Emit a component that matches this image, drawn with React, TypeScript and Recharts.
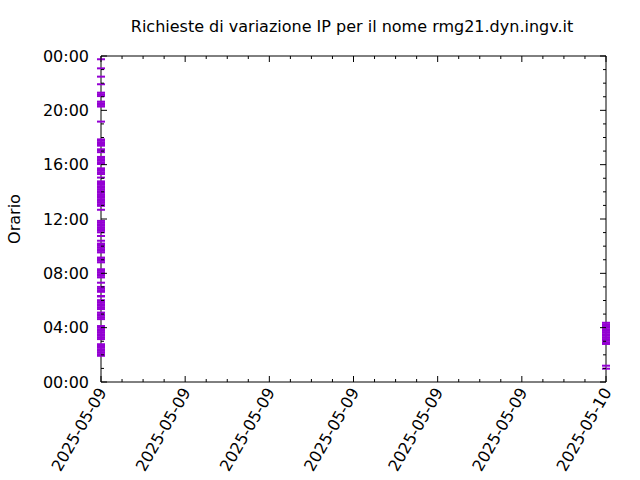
import { ScatterChart, Scatter, XAxis, YAxis, ReferenceArea } from 'recharts'

// days on the x axis (hours from 2025-05-09 00:00)
const DAY_OFFSETS = [0, 24]

// request times (hour of day)
const HOURS_0509 = [
  1.93, 2.05, 2.17, 2.29, 2.41, 2.53, 2.65, 2.78,
  3.16, 3.28, 3.4, 3.52, 3.64, 3.76, 3.88, 4.0, 4.12,
  4.63, 4.75, 4.87, 4.99, 5.11,
  5.37, 5.49, 5.61, 5.73, 5.85, 5.97, 6.02,
  6.3, 6.33,
  6.64, 6.76, 6.88, 7.0,
  7.31,
  7.7, 7.82, 7.94, 8.06, 8.18, 8.3,
  8.81, 8.93, 9.05, 9.16,
  9.54, 9.66, 9.78, 9.9, 10.02, 10.14, 10.19,
  10.4, 10.75,
  11.02, 11.14, 11.26, 11.38, 11.5, 11.62, 11.74, 11.86,
  12.68,
  12.97, 13.09, 13.21, 13.33, 13.45, 13.57, 13.69, 13.81, 13.93, 14.05, 14.17, 14.29, 14.41, 14.53, 14.65, 14.77,
  15.05,
  15.31, 15.43, 15.55, 15.67, 15.73,
  16.05, 16.17, 16.29, 16.41, 16.53, 16.57,
  16.92, 17.04, 17.13,
  17.4, 17.52, 17.64, 17.76, 17.86,
  19.17,
  20.28, 20.4, 20.52, 20.64,
  21.05, 21.18, 21.3, 21.92, 22.48, 23.09, 23.76,
]
const HOURS_0510 = [
  0.98, 1.2,
  2.8, 2.92, 3.04, 3.16, 3.28, 3.4, 3.52, 3.64, 3.76, 3.88, 4.0, 4.12, 4.24, 4.36,
]

const X_MAJOR = [0, 4, 8, 12, 16, 20, 24]
const X_LABELS = ['2025-05-09', '2025-05-09', '2025-05-09', '2025-05-09', '2025-05-09', '2025-05-09', '2025-05-10']
const Y_MAJOR = [0, 4, 8, 12, 16, 20, 24]
const Y_LABELS = ['00:00', '04:00', '08:00', '12:00', '16:00', '20:00', '00:00']
const HOURLY = Array.from({ length: 25 }, (_, i) => i)

const PURPLE = '#9400d3'
const FONT = 'DejaVu Sans, sans-serif'

// plot box
const LEFT = 101
const RIGHT = 606
const TOP = 56
const BOTTOM = 382

const points = [
  ...HOURS_0509.map((h) => ({ x: DAY_OFFSETS[0], y: h })),
  ...HOURS_0510.map((h) => ({ x: DAY_OFFSETS[1], y: h })),
]

function XTick({ x, payload }: any) {
  const v = payload.value
  const idx = X_MAJOR.indexOf(v)
  const len = idx >= 0 ? 6 : 3
  const ax = x + 6
  const ay = BOTTOM + 10
  return (
    <g>
      <line x1={x} x2={x} y1={BOTTOM} y2={BOTTOM - len} stroke="#000" />
      <line x1={x} x2={x} y1={TOP} y2={TOP + len} stroke="#000" />
      {idx >= 0 && (
        <text
          x={ax}
          y={ay}
          textAnchor="end"
          fontSize={16}
          fontFamily={FONT}
          fill="#000"
          transform={`rotate(-60, ${ax}, ${ay})`}
        >
          {X_LABELS[idx]}
        </text>
      )}
    </g>
  )
}

function YTick({ y, payload }: any) {
  const v = payload.value
  const idx = Y_MAJOR.indexOf(v)
  const len = idx >= 0 ? 6 : 3
  return (
    <g>
      <line x1={LEFT} x2={LEFT + len} y1={y} y2={y} stroke="#000" />
      <line x1={RIGHT} x2={RIGHT - len} y1={y} y2={y} stroke="#000" />
      {idx >= 0 && (
        <text x={LEFT - 12} y={y} dy="0.36em" textAnchor="end" fontSize={16} fontFamily={FONT} fill="#000">
          {Y_LABELS[idx]}
        </text>
      )}
    </g>
  )
}

const Dash = (props: any) => {
  const { cx, cy } = props
  return <rect x={cx - 4} y={cy - 1} width={8} height={2} fill={PURPLE} />
}

export default function App() {
  return (
    <div style={{ position: 'absolute', left: 0, top: 0, width: 640, height: 480, background: '#fff', fontFamily: FONT }}>
      <div
        style={{
          position: 'absolute',
          left: 0,
          top: 19,
          width: 704,
          textAlign: 'center',
          fontSize: 16,
          lineHeight: '16px',
        }}
      >
        Richieste di variazione IP per il nome rmg21.dyn.ingv.it
      </div>
      <div
        style={{
          position: 'absolute',
          left: -35,
          top: 211,
          width: 100,
          height: 16,
          lineHeight: '16px',
          fontSize: 16,
          textAlign: 'center',
          transform: 'rotate(-90deg)',
        }}
      >
        Orario
      </div>
      <ScatterChart width={640} height={480} margin={{ top: TOP, right: 640 - RIGHT, bottom: 0, left: 0 }}>
        <XAxis
          type="number"
          dataKey="x"
          domain={[0, 24]}
          ticks={HOURLY}
          interval={0}
          height={480 - BOTTOM}
          tickLine={false}
          tickSize={0}
          tickMargin={0}
          axisLine={false}
          tick={<XTick />}
        />
        <YAxis
          type="number"
          dataKey="y"
          domain={[0, 24]}
          ticks={HOURLY}
          interval={0}
          width={LEFT}
          tickLine={false}
          tickSize={0}
          tickMargin={0}
          axisLine={false}
          tick={<YTick />}
        />
        <Scatter data={points} shape={<Dash />} isAnimationActive={false} />
        <ReferenceArea x1={0} x2={24} y1={0} y2={24} fill="none" stroke="#000" strokeWidth={1} ifOverflow="visible" />
      </ScatterChart>
    </div>
  )
}
